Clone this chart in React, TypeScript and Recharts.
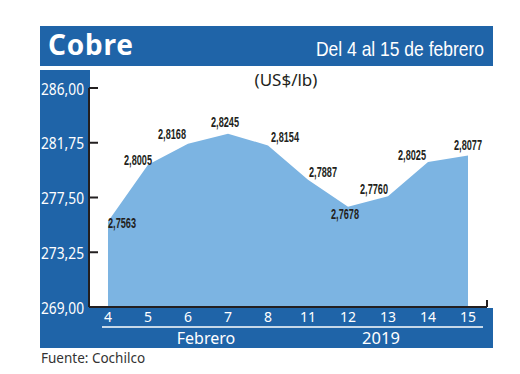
import React from 'react';
import { AreaChart, Area, XAxis, YAxis, LabelList } from 'recharts';

// Cobre, del 4 al 15 de febrero 2019 (US$/lb)
const days = ['4', '5', '6', '7', '8', '11', '12', '13', '14', '15'];
const prices = [2.7563, 2.8005, 2.8168, 2.8245, 2.8154, 2.7887, 2.7678, 2.776, 2.8025, 2.8077];
const yTicks = [269, 273.25, 277.5, 281.75, 286];

const data = days.map((day, i) => ({
  day,
  price: prices[i],
  cents: Math.round(prices[i] * 10000) / 100,
}));

// where each value label sits relative to its point
const labelOffsets = [
  [14, 1], [-10, -5], [-16, -10], [-3, -12], [17, -8],
  [15, -8], [-3, 7], [-14, -7], [-16, -7], [0, -10],
];

const darkBlue = '#1f64a8';
const lightBlue = '#7cb4e2';
const ink = '#231f20';

const fmtPrice = (v: number) => v.toFixed(4).replace('.', ',');
const fmtTick = (v: number) => v.toFixed(2).replace('.', ',');

const PriceLabel = (props: any) => {
  const { x, y, index, value } = props;
  const [dx, dy] = labelOffsets[index] || [0, -8];
  return (
    <text
      x={x + dx}
      y={y + dy}
      textAnchor="middle"
      dominantBaseline="central"
      fontFamily="'Liberation Sans Narrow', 'Liberation Sans', Arial, sans-serif"
      fontWeight={700}
      fontSize={14}
      fill={ink}
      textLength={28}
      lengthAdjust="spacingAndGlyphs"
    >
      {fmtPrice(value)}
    </text>
  );
};

const YTick = (props: any) => {
  const { x, y, payload } = props;
  return (
    <g>
      <line x1={x + 5} x2={x + 14} y1={y} y2={y} stroke={ink} strokeWidth={2} />
      <text
        x={x}
        y={y}
        textAnchor="end"
        dominantBaseline="central"
        fontFamily="'Noto Sans', sans-serif"
        fontSize={16.5}
        fill="#fff"
        textLength={43}
        lengthAdjust="spacingAndGlyphs"
      >
        {fmtTick(payload.value)}
      </text>
    </g>
  );
};

export default function App() {
  return (
    <div style={{ position: 'absolute', left: 0, top: 0, width: 520, height: 374, background: '#fff' }}>
      <svg width={520} height={374} style={{ position: 'absolute', left: 0, top: 0 }}>
        <rect x={40} y={26} width={453} height={40} fill={darkBlue} />
        <rect x={40} y={70} width={50} height={278} fill={darkBlue} />
        <rect x={40} y={308} width={453} height={40} fill={darkBlue} />
        <text x={48} y={55} fill="#fff" fontFamily="'Noto Sans', sans-serif" fontWeight={700} fontSize={28} letterSpacing={0.8}>
          Cobre
        </text>
        <text
          x={484}
          y={56}
          fill="#fff"
          textAnchor="end"
          fontFamily="'Liberation Sans', Arial, sans-serif"
          fontSize={21}
          textLength={168}
          lengthAdjust="spacingAndGlyphs"
        >
          Del 4 al 15 de febrero
        </text>
        <text x={286} y={86} fill={ink} textAnchor="middle" fontFamily="'Noto Sans', sans-serif" fontSize={17}>
          (US$/lb)
        </text>
        <line x1={102} x2={483} y1={327} y2={327} stroke="#fff" strokeWidth={1.5} />
        <text x={206} y={344} fill="#fff" textAnchor="middle" fontFamily="'Noto Sans', sans-serif" fontSize={16}>
          Febrero
        </text>
        <text x={381} y={344} fill="#fff" textAnchor="middle" fontFamily="'Noto Sans', sans-serif" fontSize={16.5}>
          2019
        </text>
        <text x={41} y={363} fill="#333" fontFamily="'Noto Sans', sans-serif" fontSize={13.5}>
          Fuente: Cochilco
        </text>
        <line x1={487} x2={487} y1={300} y2={307} stroke={ink} strokeWidth={2} />
      </svg>
      <div style={{ position: 'absolute', left: 0, top: 0 }}>
        <AreaChart
          width={520}
          height={374}
          data={data}
          margin={{ top: 88, right: 33, bottom: 47, left: 29 }}
        >
          <XAxis
            dataKey="day"
            interval={0}
            padding={{ left: 19, right: 19 }}
            axisLine={{ stroke: ink, strokeWidth: 2 }}
            tickLine={false}
            tickSize={3}
            tickMargin={2}
            height={20}
            tick={{ fill: '#fff', fontSize: 14, fontFamily: "'Noto Sans', sans-serif" }}
          />
          <YAxis
            domain={[269, 286]}
            ticks={yTicks}
            width={60}
            axisLine={{ stroke: ink, strokeWidth: 2 }}
            tickLine={false}
            tickSize={0}
            tickMargin={5}
            tick={<YTick />}
          />
          <Area
            type="linear"
            dataKey="cents"
            stroke="none"
            fill={lightBlue}
            fillOpacity={1}
            isAnimationActive={false}
          >
            <LabelList dataKey="price" content={<PriceLabel />} />
          </Area>
        </AreaChart>
      </div>
    </div>
  );
}
